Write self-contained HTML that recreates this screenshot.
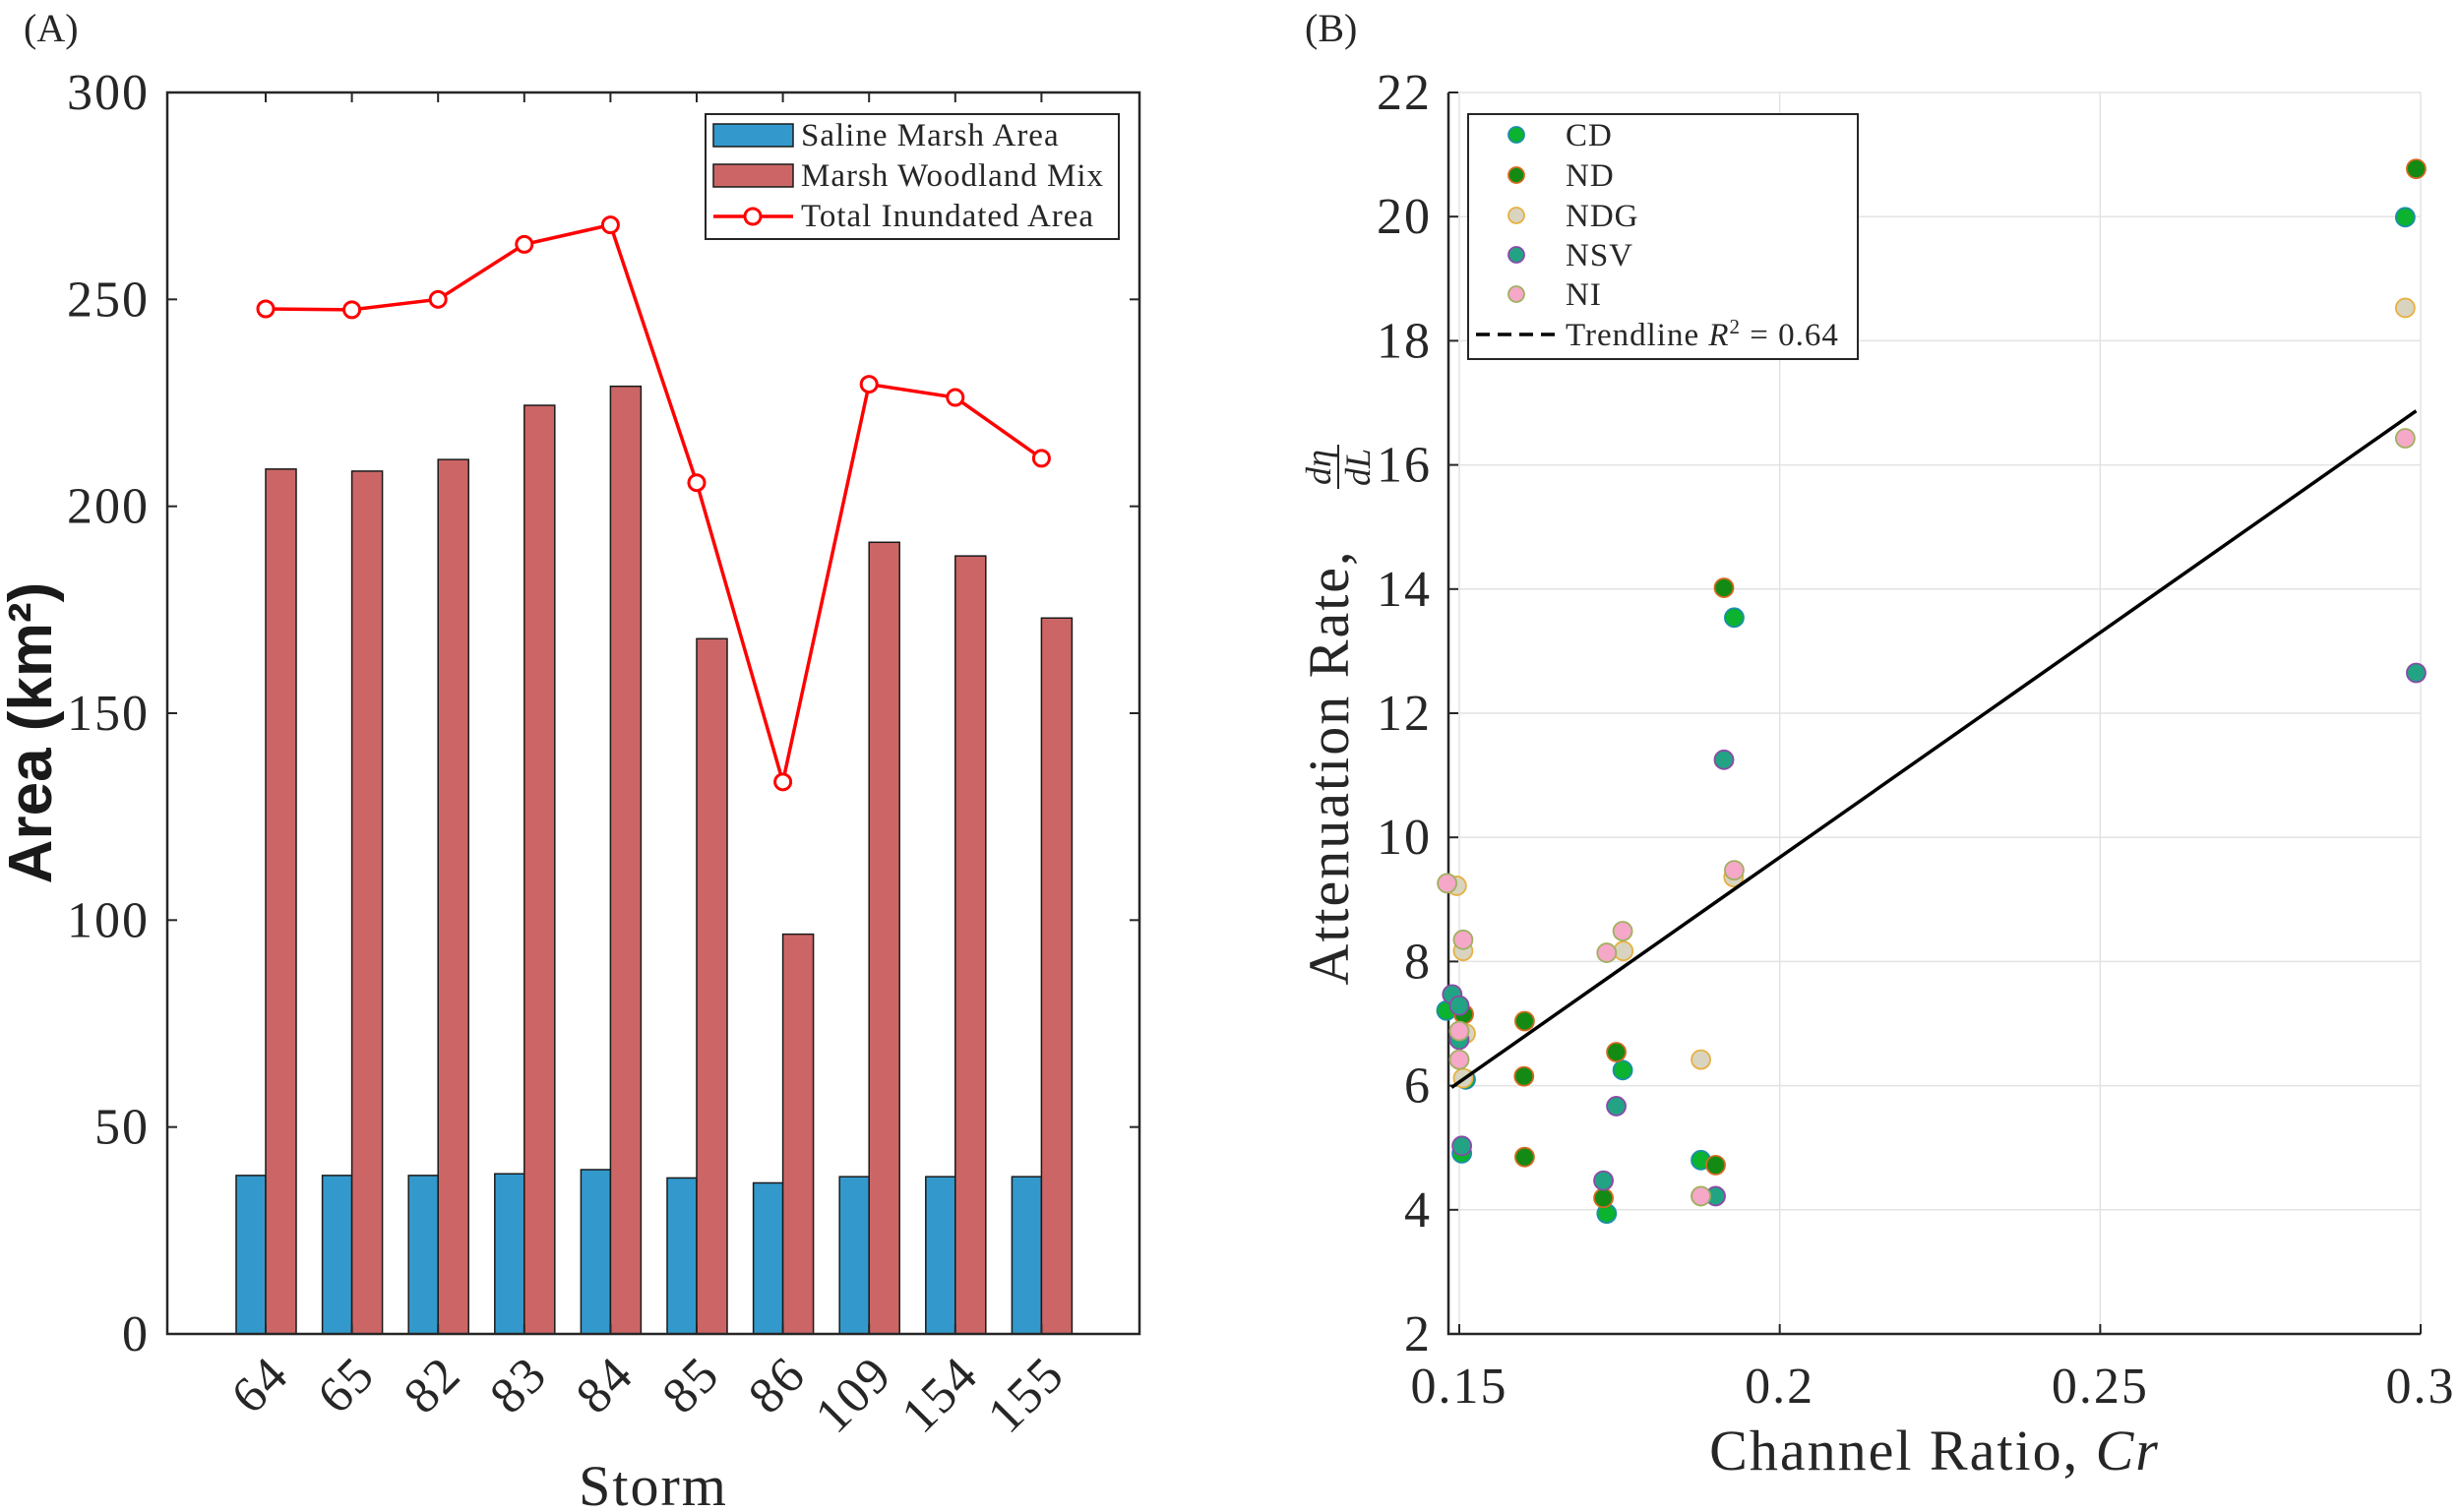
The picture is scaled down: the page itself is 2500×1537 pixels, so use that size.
<!DOCTYPE html>
<html><head><meta charset="utf-8"><style>
html,body{margin:0;padding:0;background:#fff}
svg{display:block}
.serif{font-family:"Liberation Serif",serif;fill:#262626}
.tick{letter-spacing:2px}
.leg{letter-spacing:1px}
</style></head><body>
<svg width="2500" height="1537" viewBox="0 0 2500 1537">
<g id="pa"></g>
<g id="pb"></g>
</svg>
<script>
const storms=["64","65","82","83","84","85","86","109","154","155"];
const salineVals=[38.3,38.3,38.3,38.7,39.7,37.7,36.5,38,38,38];
const woodVals=[209,208.5,211.3,224.4,229,168,96.6,191.3,188,173];
const totalVals=[247.7,247.5,250,263.3,268,205.7,133.4,229.5,226.3,211.6];
const aYTicks=[0,50,100,150,200,250,300];

const cdX=[0.2976,0.1929,0.1755,0.173,0.1877,0.1504,0.148,0.151];
const cdY=[19.99,13.54,6.25,3.94,4.8,4.91,7.21,6.1];
const ndX=[0.2993,0.1913,0.1602,0.1601,0.1602,0.1745,0.1725,0.19,0.1507];
const ndY=[20.77,14.02,7.04,6.15,4.85,6.54,4.19,4.72,7.15];
const ndgX=[0.2976,0.1496,0.1506,0.1756,0.1928,0.1877,0.151,0.1506,0.1877];
const ndgY=[18.53,9.22,8.17,8.17,9.36,6.42,6.84,6.12,4.22];
const nsvX=[0.2993,0.1913,0.1745,0.1725,0.19,0.1504,0.1489,0.15,0.15];
const nsvY=[12.65,11.25,5.67,4.47,4.22,5.03,7.47,7.29,6.74];
const niX=[0.2976,0.1481,0.1506,0.173,0.1755,0.1929,0.1877,0.15,0.15];
const niY=[16.43,9.26,8.35,8.14,8.49,9.47,4.22,6.88,6.42];
const trendX=[0.1488,0.2993];
const trendY=[5.97,16.87];
const bXTicks=[0.15,0.2,0.25,0.3];
const bYTicks=[2,4,6,8,10,12,14,16,18,20,22];

const NS="http://www.w3.org/2000/svg";
function mk(p,tag,at,txt){const e=document.createElementNS(NS,tag);for(const k in at)e.setAttribute(k,at[k]);if(txt!==undefined)e.textContent=txt;p.appendChild(e);return e;}

// Panel A
const pa=document.getElementById('pa');
const aL=170,aR=1158,aT=94,aB=1356;
const ay=v=>aB-(v/300)*(aB-aT);
const ax=i=>270+i*87.6;
let t=mk(pa,'text',{x:24,y:42,'font-size':40,class:'serif'},'(A)');


aYTicks.forEach(v=>{
 let l=mk(pa,'line',{x1:aL,x2:aL+10,y1:ay(v),y2:ay(v),stroke:'#262626','stroke-width':2});
 
 
 let l2=mk(pa,'line',{x1:aR,x2:aR-10,y1:ay(v),y2:ay(v),stroke:'#262626','stroke-width':2});
 
 
 let tx=mk(pa,'text',{x:152,y:ay(v)+17,'font-size':52,'text-anchor':'end',class:'serif tick'},String(v));
 
 
});
storms.forEach((s,i)=>{
 const x=ax(i);
 let b=mk(pa,'rect',{x:x-30,y:ay(salineVals[i]),width:30,height:aB-ay(salineVals[i]),fill:'#3399cc',stroke:'#1a1a1a','stroke-width':1.5});
 
 
 let r=mk(pa,'rect',{x:x,y:ay(woodVals[i]),width:31,height:aB-ay(woodVals[i]),fill:'#cc6666',stroke:'#1a1a1a','stroke-width':1.5});
 
 
 let tk=mk(pa,'line',{x1:x,x2:x,y1:aT,y2:aT+10,stroke:'#262626','stroke-width':2});
 
 
 let tb=mk(pa,'line',{x1:x,x2:x,y1:aB,y2:aB-10,stroke:'#262626','stroke-width':2});
 
 
 let lab=mk(pa,'text',{x:0,y:0,'font-size':52,'text-anchor':'end',class:'serif tick',transform:`translate(${x+26},${1400}) rotate(-45)`},s);
 
 
});
let pts=totalVals.map((v,i)=>ax(i)+','+ay(v)).join(' ');
let pl=mk(pa,'polyline',{points:pts,fill:'none',stroke:'#ff0000','stroke-width':3.5});


totalVals.forEach((v,i)=>{
 let c=mk(pa,'circle',{cx:ax(i),cy:ay(v),r:8,fill:'#fff',stroke:'#ff0000','stroke-width':3});
 
 
});
let fa=mk(pa,'rect',{x:aL,y:aT,width:aR-aL,height:aB-aT,fill:'none',stroke:'#262626','stroke-width':2.5});


let yl=mk(pa,'text',{x:0,y:0,'font-size':62,'font-weight':'600','text-anchor':'middle','font-family':'"Liberation Sans",sans-serif',fill:'#1a1a1a',transform:'translate(52,745) rotate(-90)'},'Area (km²)');


let xl=mk(pa,'text',{x:664,y:1530,'font-size':58,'text-anchor':'middle',class:'serif tick'},'Storm');


// legend A
const lgA=mk(pa,'g',{});


mk(lgA,'rect',{x:717,y:116,width:420,height:127,fill:'#fff',stroke:'#262626','stroke-width':2});
mk(lgA,'rect',{x:725,y:126,width:81,height:23,fill:'#3399cc',stroke:'#1a1a1a','stroke-width':1.5});
mk(lgA,'rect',{x:725,y:167,width:81,height:23,fill:'#cc6666',stroke:'#1a1a1a','stroke-width':1.5});
mk(lgA,'line',{x1:725,x2:806,y1:220,y2:220,stroke:'#ff0000','stroke-width':3.5});
mk(lgA,'circle',{cx:765,cy:220,r:8,fill:'#fff',stroke:'#ff0000','stroke-width':3});
[['Saline Marsh Area',148],['Marsh Woodland Mix',189],['Total Inundated Area',230]].forEach(a=>{
 let e=mk(lgA,'text',{x:814,y:a[1],'font-size':33,class:'serif leg'},a[0]);
 
 
});

// Panel B
const pb=document.getElementById('pb');
const bL=1472,bR=2460,bT=94,bB=1356;
const bx=v=>1483+(v-0.15)/0.15*(bR-1483);
const by=v=>bB-(v-2)/20*(bB-bT);
t=mk(pb,'text',{x:1326,y:42,'font-size':40,class:'serif'},'(B)');


bYTicks.forEach(v=>{
 let g=mk(pb,'line',{x1:bL,x2:bR,y1:by(v),y2:by(v),stroke:'#e3e3e3','stroke-width':1.5});
 
 
 let tk=mk(pb,'line',{x1:bL,x2:bL+10,y1:by(v),y2:by(v),stroke:'#262626','stroke-width':2});
 
 
 let tx=mk(pb,'text',{x:1455,y:by(v)+17,'font-size':52,'text-anchor':'end',class:'serif tick'},String(v));
 
 
});
bXTicks.forEach(v=>{
 let g=mk(pb,'line',{x1:bx(v),x2:bx(v),y1:bT,y2:bB,stroke:'#e3e3e3','stroke-width':1.5});
 
 
 let tk=mk(pb,'line',{x1:bx(v),x2:bx(v),y1:bB,y2:bB-10,stroke:'#262626','stroke-width':2});
 
 
 let tx=mk(pb,'text',{x:bx(v),y:1426,'font-size':52,'text-anchor':'middle',class:'serif tick'},String(v));
 
 
});
let ax1=mk(pb,'path',{d:`M${bL},${bT}V${bB}H${bR}`,fill:'none',stroke:'#262626','stroke-width':2.5});


const series=[
 ['cd',cdX,cdY,'#0bb32e','#1a8fa8'],
 ['nd',ndX,ndY,'#128a14','#d2691e'],
 ['ndg',ndgX,ndgY,'#d8d4c0','#e8b040'],
 ['nsv',nsvX,nsvY,'#22a383','#8a4aa8'],
 ['ni',niX,niY,'#f5a8c8','#a0b060']];
series.forEach(s=>{
 s[1].forEach((xv,i)=>{
  let c=mk(pb,'circle',{cx:bx(xv),cy:by(s[2][i]),r:9.5,fill:s[3],stroke:s[4],'stroke-width':1.8});
  
  
 });
});
let tl=mk(pb,'line',{x1:bx(trendX[0]),y1:by(trendY[0]),x2:bx(trendX[1]),y2:by(trendY[1]),stroke:'#000','stroke-width':3.5});


// legend B
const lgB=mk(pb,'g',{});


mk(lgB,'rect',{x:1492,y:116,width:396,height:249,fill:'#fff',stroke:'#262626','stroke-width':2});
const names=['CD','ND','NDG','NSV','NI'];
const rowsY=[137,178,219,259,299];
series.forEach((s,i)=>{
 mk(lgB,'circle',{cx:1541,cy:rowsY[i],r:8,fill:s[3],stroke:s[4],'stroke-width':1.8});
 let e=mk(lgB,'text',{x:1591,y:rowsY[i]+11,'font-size':33,class:'serif leg'},names[i]);
 
 
});
mk(lgB,'line',{x1:1500,x2:1580,y1:340,y2:340,stroke:'#000','stroke-width':3.5,'stroke-dasharray':'14,8'});
let te=mk(lgB,'text',{x:1591,y:351,'font-size':33,class:'serif leg'});


te.innerHTML='Trendline <tspan font-style="italic">R</tspan><tspan dy="-12" font-size="21">2</tspan><tspan dy="12"> = 0.64</tspan>';
let bxl=mk(pb,'text',{x:1966,y:1494,'font-size':58,'text-anchor':'middle',class:'serif tick'});


bxl.innerHTML='Channel Ratio, <tspan font-style="italic">Cr</tspan>';
const ylg=mk(pb,'g',{transform:'translate(1370,740) rotate(-90)'});


mk(ylg,'text',{x:-40,y:0,'font-size':58,'text-anchor':'middle',class:'serif tick'},'Attenuation Rate,');
mk(ylg,'text',{x:265,y:-18,'font-size':36,'font-style':'italic','text-anchor':'middle',class:'serif'},'dη');
mk(ylg,'line',{x1:243,x2:288,y1:-10,y2:-10,stroke:'#262626','stroke-width':2});
mk(ylg,'text',{x:265,y:22,'font-size':36,'font-style':'italic','text-anchor':'middle',class:'serif'},'dL');
</script>
</body></html>
